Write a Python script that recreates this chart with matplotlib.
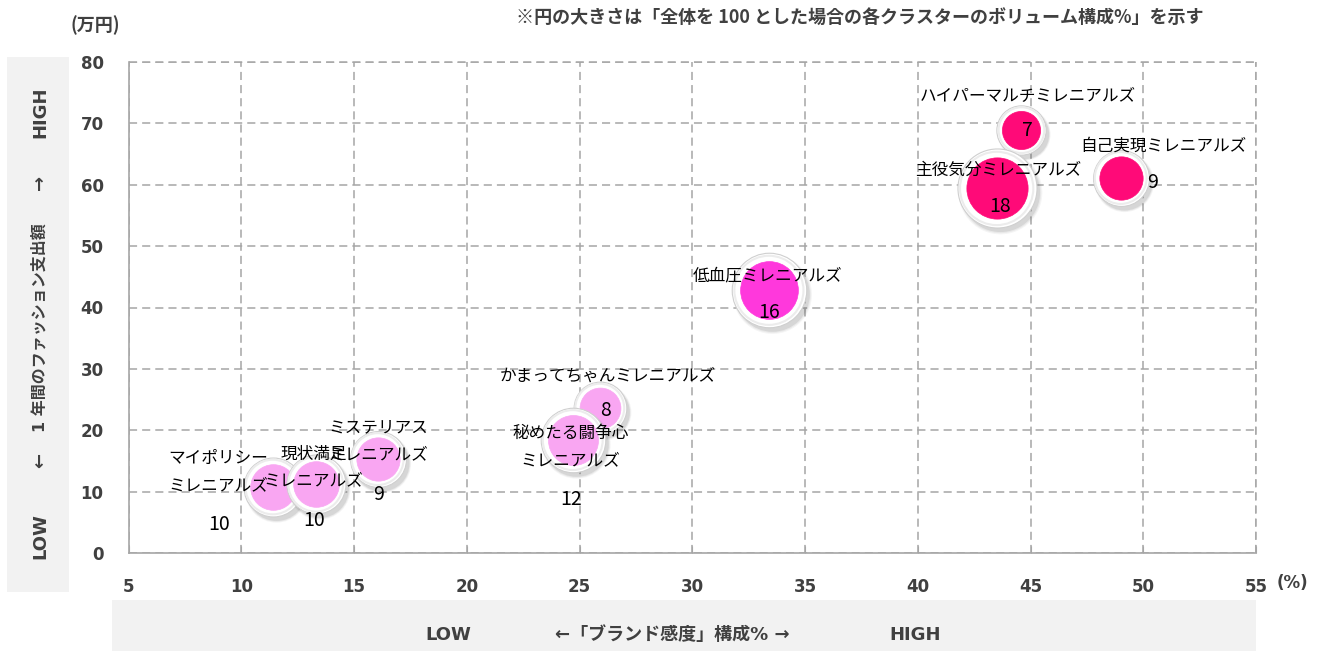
import matplotlib
matplotlib.use('Agg')
import matplotlib.pyplot as plt
from matplotlib.patches import Rectangle
import matplotlib.transforms as mtransforms

# ---------------- data ----------------
names = ['かまってちゃんミレニアルズ', '秘めたる闘争心\nミレニアルズ', 'マイポリシー\nミレニアルズ',
         '現状満足\nミレニアルズ', 'ミステリアス\nミレニアルズ', '低血圧ミレニアルズ',
         'ハイパーマルチミレニアルズ', '主役気分ミレニアルズ', '自己実現ミレニアルズ']
brand_pct = [25.9, 24.7, 11.4, 13.3, 16.05, 33.4, 44.6, 43.5, 49.0]
spend = [23.6, 18.4, 10.75, 11.2, 15.3, 42.8, 68.9, 59.4, 61.1]
volume = [8, 12, 10, 10, 9, 16, 7, 18, 9]
tier = ['low', 'low', 'low', 'low', 'low', 'mid', 'high', 'high', 'high']
x_ticks = [5, 10, 15, 20, 25, 30, 35, 40, 45, 50, 55]
y_ticks = [0, 10, 20, 30, 40, 50, 60, 70, 80]

# label offsets in pixels (dx, dy up) relative to bubble centre
name_off = [(8, 32), (-2, -7), (-55, 15), (-2, 17), (1, 18), (-1, 14), (6, 34), (2, 18), (43, 32)]
num_off = [(6, -2), (-2, -59), (-54, -37), (-2, -36), (1, -35), (0, -22), (6, 0), (3, -18), (32, -5)]

tier_color = {'low': '#F9A6F2', 'mid': '#FF38DC', 'high': '#FF0A78'}

W, H = 1325, 651
fig = plt.figure(figsize=(W / 100, H / 100), dpi=100)
fig.patch.set_facecolor('white')

# grey panels
fig.patches.append(Rectangle((7 / W, 1 - 592 / H), 62 / W, (592 - 57) / H,
                             transform=fig.transFigure, facecolor='#f2f2f2', edgecolor='none', zorder=0))
fig.patches.append(Rectangle((112 / W, 0), (1256 - 112) / W, 51 / H,
                             transform=fig.transFigure, facecolor='#f2f2f2', edgecolor='none', zorder=0))

ax_l, ax_r, ax_t, ax_b = 128.5, 1256, 62, 553
ax = fig.add_axes([ax_l / W, 1 - ax_b / H, (ax_r - ax_l) / W, (ax_b - ax_t) / H])
ax.set_facecolor('none')
ax.set_xlim(5, 55)
ax.set_ylim(0, 80)
ax.set_xticks(x_ticks)
ax.set_yticks(y_ticks)

gcol = '#a6a6a6'
dash = (0, (5.3, 3.3))
ax.grid(True, color=gcol, linestyle=dash, linewidth=1.1, zorder=0.5)
ax.set_axisbelow(True)
for s in ['top', 'right']:
    ax.spines[s].set_visible(False)
for s in ['left', 'bottom']:
    ax.spines[s].set_color(gcol)
    ax.spines[s].set_linewidth(1.2)
ax.axhline(80, color=gcol, linestyle=dash, linewidth=1.1, clip_on=False, zorder=0.5)
ax.axvline(55, color=gcol, linestyle=dash, linewidth=1.1, clip_on=False, zorder=0.5)

ax.tick_params(axis='x', direction='in', length=5, color=gcol, pad=18, labelsize=12, labelcolor='#404040')
ax.tick_params(axis='y', length=0, pad=18, labelsize=12, labelcolor='#404040')
for lab in ax.get_xticklabels() + ax.get_yticklabels():
    lab.set_fontweight('bold')
    lab.set_fontfamily('DejaVu Sans')

# bubbles
k = 180.0  # scatter area per volume unit
for i, (x, y, v, t) in enumerate(zip(brand_pct, spend, volume, tier)):
    base = 3 + i * 0.01
    s_out = k * v
    # soft shadow
    for j, (sc, a) in enumerate([(1.12, 0.06), (1.06, 0.08), (1.0, 0.12)]):
        tr = mtransforms.offset_copy(ax.transData, fig=fig, x=3, y=-4, units='dots')
        ax.scatter([x], [y], s=s_out * sc, color='#555555', alpha=a, linewidths=0,
                   transform=tr, zorder=base)
    ax.scatter([x], [y], s=s_out, color='white', edgecolors='#cfcfcf', linewidths=0.8, zorder=base + 0.001)
    ax.scatter([x], [y], s=s_out * 0.86, color='none', edgecolors='#ececec', linewidths=1.5, zorder=base + 0.002)
    ax.scatter([x], [y], s=s_out * 0.6, color=tier_color[t], edgecolors=tier_color[t],
               linewidths=0.5, zorder=base + 0.003)

lab_font = ['Noto Sans CJK JP', 'DejaVu Sans']
for i, (x, y) in enumerate(zip(brand_pct, spend)):
    dx, dy = name_off[i]
    ax.annotate(names[i], (x, y), xytext=(dx * 0.72, dy * 0.72), textcoords='offset points',
                ha='center', va='center', fontsize=12, family=lab_font, linespacing=1.75,
                zorder=10, color='black')
    dx, dy = num_off[i]
    ax.annotate(str(volume[i]), (x, y), xytext=(dx * 0.72, dy * 0.72), textcoords='offset points',
                ha='center', va='center', fontsize=14, family=lab_font, zorder=10, color='black')

txt_col = '#404040'
bold_font = ['DejaVu Sans', 'Noto Sans CJK JP']
fig.text(95 / W, 1 - 25 / H, '(万円)', ha='center', va='center', fontsize=13,
         fontweight='bold', family=['Noto Sans CJK JP'], color=txt_col)
fig.text(1292 / W, 1 - 583 / H, '(%)', ha='center', va='center', fontsize=12,
         fontweight='bold', family=bold_font, color=txt_col)
fig.text(860 / W, 1 - 18 / H, '※円の大きさは「全体を 100 とした場合の各クラスターのボリューム構成%」を示す',
         ha='center', va='center', fontsize=13, fontweight='bold', family=['Noto Sans CJK JP'], color=txt_col)

# left panel (rotated)
for yy, s, fs in [(536, 'LOW', 13), (460, '←', 13), (328, '1 年間のファッション支出額', 11.5),
                  (182, '→', 13), (112, 'HIGH', 13)]:
    fig.text(40 / W, 1 - yy / H, s, ha='center', va='center', rotation=90, fontsize=fs,
             fontweight='bold', family=bold_font, color=txt_col)

# bottom panel
for xx, s in [(448, 'LOW'), (672, '←「ブランド感度」構成% →'), (915, 'HIGH')]:
    fig.text(xx / W, 1 - 635 / H, s, ha='center', va='center', fontsize=13,
             fontweight='bold', family=bold_font, color=txt_col)

fig.savefig('out.png', dpi=100)
